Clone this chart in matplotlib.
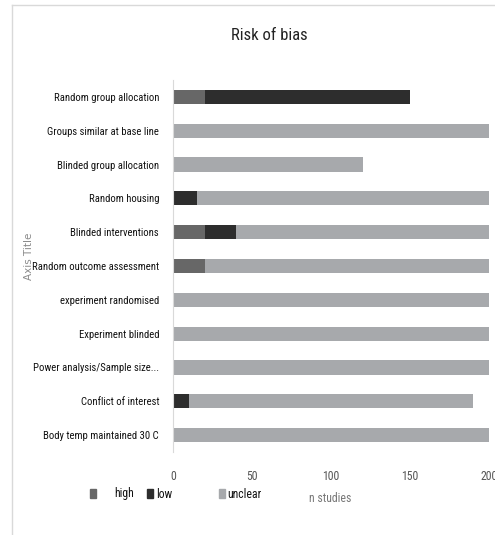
import matplotlib
matplotlib.use("Agg")
import matplotlib.pyplot as plt
import numpy as np
from matplotlib.lines import Line2D
from matplotlib.patches import Rectangle

plt.rcParams['font.family'] = ['Roboto Condensed', 'DejaVu Sans']
plt.rcParams['font.stretch'] = 'condensed'

# Data
categories = ['Random group allocation', 'Groups similar at base line', 'Blinded group allocation',
              'Random housing', 'Blinded interventions', 'Random outcome assessment',
              'experiment randomised', 'Experiment blinded', 'Power analysis/Sample size...',
              'Conflict of interest', 'Body temp maintained 30 C']
high = [20, 0, 0, 0, 20, 20, 0, 0, 0, 0, 0]
low = [130, 0, 0, 15, 20, 0, 0, 0, 0, 10, 0]
unclear = [0, 200, 120, 185, 160, 180, 200, 200, 200, 180, 200]
series_names = ['high', 'low', 'unclear']
colors = ['#676767', '#2d2d2d', '#a7a9ac']
xticks = [0, 50, 100, 150, 200]

fig = plt.figure(figsize=(4.95, 5.35), dpi=100)
ax = fig.add_axes([173 / 495, 1 - 452 / 535, (489 - 173) / 495, (452 - 80) / 535])

y = np.arange(len(categories))
left = np.zeros(len(categories))
for vals, name, c in zip([high, low, unclear], series_names, colors):
    ax.barh(y, vals, left=left, height=0.42, color=c, label=name)
    left += np.array(vals)

ax.set_ylim(len(categories) - 0.5, -0.5)
ax.set_xlim(0, 200)
ax.set_yticks(y)
ax.set_yticklabels(categories, fontsize=7.7, color='#111111')
ax.set_xticks(xticks)
ax.set_xticklabels([str(t) for t in xticks], fontsize=8.5, color='#555555')
ax.tick_params(length=0, pad=10)
ax.tick_params(axis='x', pad=13)
for s in ['top', 'right', 'bottom']:
    ax.spines[s].set_visible(False)
ax.spines['left'].set_color('#d9d9d9')

fig.text(269 / 495, 1 - 36 / 535, 'Risk of bias', ha='center', va='center', fontsize=12, color='#222222')
fig.text(330 / 495, 1 - 499 / 535, 'n studies', ha='center', va='center', fontsize=8.5, color='#777777')
fig.text(29 / 495, 1 - 256 / 535, 'Axis Title', rotation=90, ha='center', va='center',
         fontsize=7.5, color='#8a8a8a', family='DejaVu Sans', fontstretch='normal')

# legend, placed by hand
leg_marker_x = [93, 150, 222]
leg_text_x = [114, 156, 227]
for mx, tx, name, c in zip(leg_marker_x, leg_text_x, series_names, colors):
    fig.patches.append(Rectangle((mx / 495 - 3 / 495, 1 - 498 / 535), 6 / 495, 9 / 535,
                                 transform=fig.transFigure, color=c))
    fig.text(tx / 495, 1 - 494 / 535, name, ha='left', va='center', fontsize=8.5, color='#111111')

# outer frame lines
fig.add_artist(Line2D([12 / 495, 12 / 495], [0, 1 - 5 / 535], color='#d9d9d9', lw=1, transform=fig.transFigure))
fig.add_artist(Line2D([12 / 495, 1], [1 - 5 / 535, 1 - 5 / 535], color='#d9d9d9', lw=1, transform=fig.transFigure))

fig.savefig('out.png', dpi=100)
